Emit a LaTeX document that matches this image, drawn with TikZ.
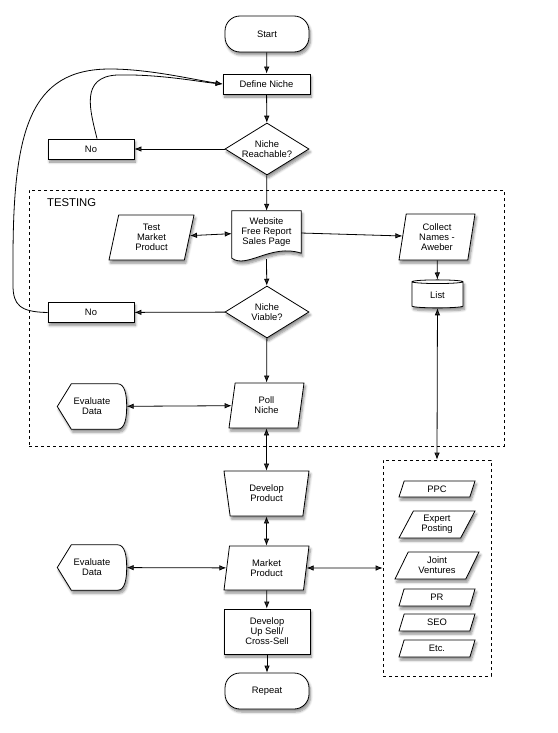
\documentclass[tikz,border=0pt]{standalone}
\usepackage{fontspec}
\setmainfont{Liberation Sans}
\usetikzlibrary{shapes.geometric,shadows,shadows.blur,arrows.meta,calc}
\pgfdeclarelayer{bg}
\pgfsetlayers{bg,main}
\newcommand\flowfont{\fontsize{9.4}{10}\selectfont}
\tikzset{
 shapeline/.style={draw, line width=0.8pt, fill=white, blur shadow={shadow xshift=1.5pt, shadow yshift=-3pt, shadow blur radius=2.5pt, shadow blur steps=6, shadow opacity=45}},
 base/.style={shapeline, font=\flowfont, align=center, inner sep=0pt},
 termnode/.style={base, rectangle, rounded corners=15pt, minimum width=84pt, minimum height=36pt},
 procnode/.style={base, rectangle, minimum height=20pt},
 decnode/.style={base, diamond, aspect=1.6, minimum width=84pt, minimum height=52pt},
 ionode/.style={base, trapezium, trapezium left angle=70, trapezium right angle=110, trapezium stretches body, minimum height=45pt},
 smallio/.style={base, trapezium, trapezium left angle=52, trapezium right angle=128, trapezium stretches body, minimum width=76pt},
 manualnode/.style={base, trapezium, trapezium left angle=110, trapezium right angle=110, trapezium stretches body, minimum width=85pt, minimum height=45pt},
 storenode/.style={base, cylinder, shape border rotate=90, aspect=0.25, minimum width=51pt, minimum height=28pt},
 hidden/.style={rectangle, font=\flowfont, align=center, inner sep=0pt},
 dashbox/.style={draw, dashed, line width=0.7pt, rectangle, inner sep=0pt},
 labelnode/.style={font=\fontsize{11.3}{12}\selectfont, inner sep=0pt},
 conn/.style={draw, line width=0.8pt},
 dbl/.style={conn, <->},
 sgl/.style={conn, ->},
}
\newcommand\dispshape[1]{%
 \path[shapeline] (#1.west) -- ($(#1.north west)+(14,0)$) -- ($(#1.north east)+(-9,0)$) .. controls ($(#1.north east)+(-2,0)$) and ($(#1.east)+(0,-12)$) .. (#1.east) .. controls ($(#1.east)+(0,12)$) and ($(#1.south east)+(-2,0)$) .. ($(#1.south east)+(-9,0)$) -- ($(#1.south west)+(14,0)$) -- cycle;}
\newcommand\docshape[1]{%
 \path[shapeline] (#1.south east) -- (#1.north east) -- (#1.north west) -- ($(#1.south west)+(0,5)$) .. controls ($(#1.south west)+(15,16)$) and ($(#1.south east)+(-30,-10)$) .. (#1.south east) -- cycle;}
\begin{document}
\begin{tikzpicture}[x=1pt,y=-1pt, >={Latex[length=7pt,width=5.5pt]}]
\useasboundingbox (0,0) rectangle (557,733);
% main column
\node[termnode] (start) at (267,34) {Start};
\node[procnode, minimum width=87pt] (dn) at (266.5,84) {Define Niche};
\node[decnode] (nr) at (267,149) {Niche\\Reachable?};
\node[procnode, minimum width=86pt] (no1) at (91,149) {No};
% testing box
\node[dashbox, minimum width=475pt, minimum height=256pt] (testbox) at (266.5,318) {};
\node[labelnode, anchor=west] (tlabel) at (47,203) {TESTING};
\node[hidden, minimum width=69pt, minimum height=42pt] (web) at (266.5,232) {Website\\Free Report\\Sales Page};
\node[ionode, minimum width=85pt] (tmp) at (151.5,237.5) {Test\\Market\\Product};
\node[ionode, trapezium left angle=75, trapezium right angle=105, minimum width=76pt, minimum height=46pt] (coll) at (437,237) {Collect\\Names -\\Aweber};
\node[storenode] (list) at (437.5,295) {List};
\node[decnode] (nv) at (267,312) {Niche\\Viable?};
\node[procnode, minimum width=86pt] (no2) at (91,312.5) {No};
\node[ionode, minimum width=75pt] (poll) at (266.5,405.5) {Poll\\Niche};
\node[hidden, minimum width=69pt, minimum height=45pt] (ev1) at (92,406.5) {Evaluate\\Data};
% lower part
\node[manualnode] (dp) at (266.5,493.5) {Develop\\Product};
\node[ionode, trapezium left angle=72, trapezium right angle=108, minimum width=85pt, minimum height=44pt] (mp) at (266.5,568) {Market\\Product};
\node[hidden, minimum width=69pt, minimum height=45pt] (ev2) at (92,567.5) {Evaluate\\Data};
\node[procnode, minimum width=86pt, minimum height=45pt] (dus) at (267,631.5) {Develop\\Up Sell/\\Cross-Sell};
\node[termnode] (rep) at (267,691) {Repeat};
% marketing box
\node[dashbox, minimum width=108pt, minimum height=216pt] (mkt) at (437,568) {};
\node[smallio, minimum height=16pt] (ppc) at (437,489) {PPC};
\node[smallio, minimum height=27pt] (exp) at (437,524.5) {Expert\\Posting};
\node[smallio, minimum width=84pt, minimum height=27pt] (jv) at (437,565.5) {Joint\\Ventures};
\node[smallio, minimum height=17pt] (pr) at (437,597.5) {PR};
\node[smallio, minimum height=17pt] (seo) at (437,622.5) {SEO};
\node[smallio, minimum height=17pt] (etc) at (437,648.5) {Etc.};
% custom outlines
\begin{pgfonlayer}{bg}
\docshape{web}
\dispshape{ev1}
\dispshape{ev2}
\end{pgfonlayer}
\coordinate (webb) at ($(web.south)+(0,6)$);
% connectors
\draw[sgl] (start) -- (dn);
\draw[sgl] (dn) -- (nr);
\draw[sgl] (nr) -- (no1);
\draw[sgl] ($(no1.north)+(6,0)$) .. controls (90,110) and (80,77) .. (117,75) .. controls (160,74) and (200,82) .. (dn.west);
\draw[sgl] (no2.west) .. controls (20,312) and (13,305) .. (13,285) -- (13,260) .. controls (13,130) and (30,69) .. (110,69) .. controls (150,69) and (195,80) .. (dn.west);
\draw[sgl] (nr) -- (web);
\draw[dbl] (tmp) -- (web);
\draw[sgl] (web) -- (coll);
\draw[sgl] (coll) -- (list);
\draw[sgl] (webb) -- (nv);
\draw[sgl] (nv) -- (no2);
\draw[sgl] (nv) -- (poll);
\draw[dbl] (ev1) -- (poll);
\draw[dbl] (poll) -- (dp);
\draw[dbl] (list) -- (mkt.north);
\draw[dbl] (dp) -- (mp);
\draw[dbl] (ev2) -- (mp);
\draw[dbl] (mp) -- (mkt.west);
\draw[sgl] (mp) -- (dus);
\draw[sgl] (dus) -- (rep);
\end{tikzpicture}
\end{document}
